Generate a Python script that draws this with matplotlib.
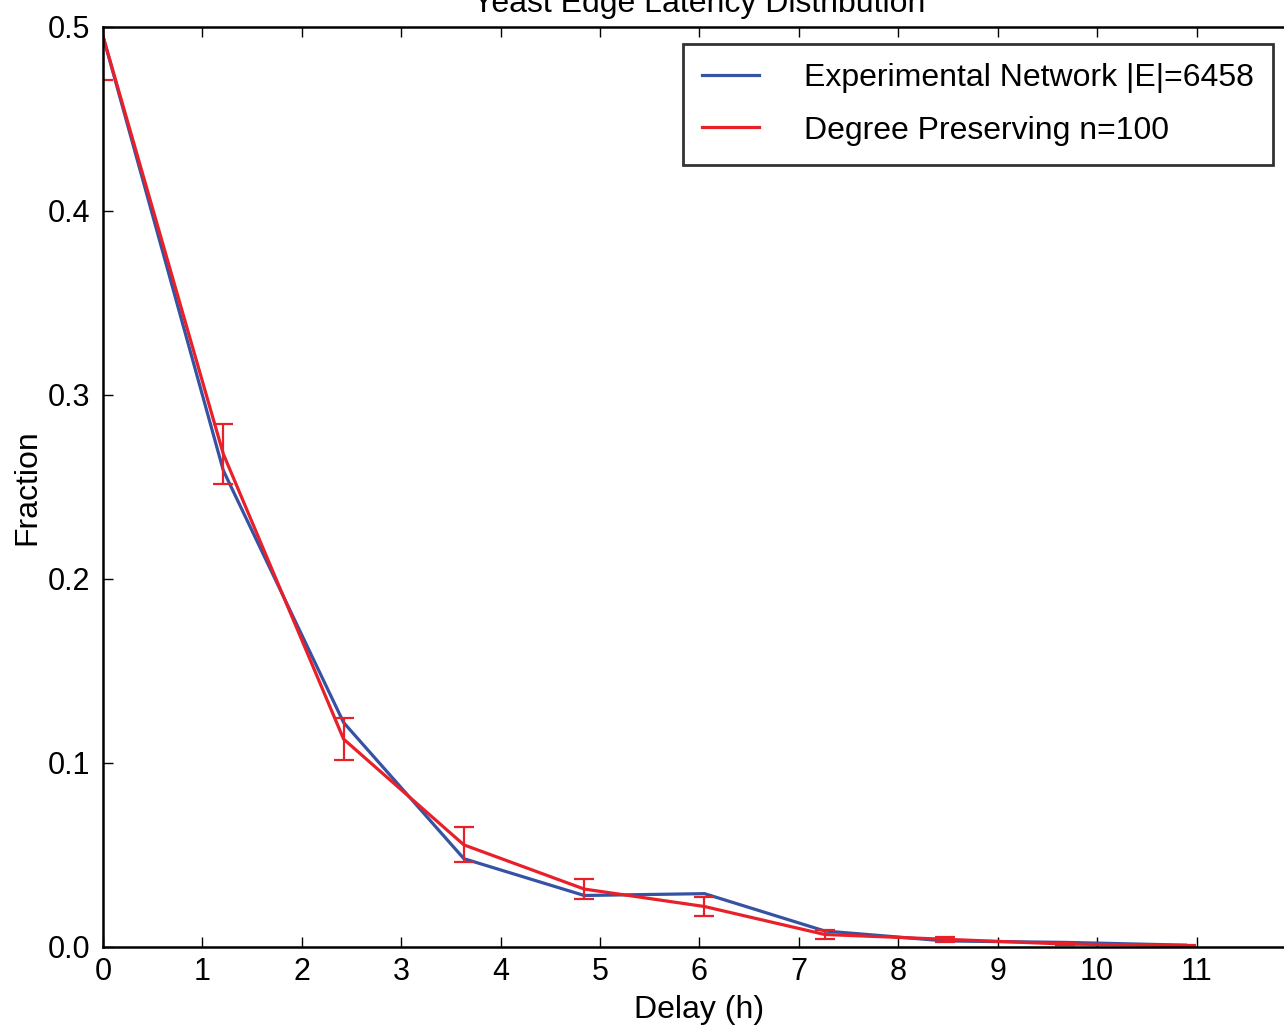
import numpy as np
import matplotlib
matplotlib.use('Agg')
from matplotlib import pyplot as plt

plt.rcParams['font.family'] = ['Liberation Sans', 'DejaVu Sans']

# delay bins (h)
delay = np.arange(10) * 1.21

# observed network
frac_exp = [0.495, 0.259, 0.122, 0.048, 0.028, 0.029, 0.0087, 0.0033, 0.0025, 0.001]

# degree preserving randomisations: mean and std
frac_rand = [0.495, 0.268, 0.113, 0.0555, 0.0315, 0.022, 0.0068, 0.0042, 0.0016, 0.0008]
err_rand = [0.024, 0.0165, 0.0115, 0.0095, 0.0055, 0.005, 0.0023, 0.0013, 0.0006, 0.0004]

label_exp = 'Experimental Network |E|=6458'
label_rand = 'Degree Preserving n=100'

blue = '#3652a3'
red = '#e8202a'

fig = plt.figure(figsize=(12.84, 10.28), dpi=100)
ax = fig.add_axes([103 / 1284, 81 / 1028, 1193 / 1284, 920 / 1028])

ax.plot(delay, frac_exp, color=blue, linewidth=2.3, label=label_exp)
ax.errorbar(delay, frac_rand, yerr=err_rand, color=red, linewidth=2.3,
            elinewidth=1.6, capsize=7, capthick=1.6, label=label_rand)

ax.set_xlim(0, 12)
ax.set_ylim(0, 0.5)
ax.set_xticks(range(12))
ax.set_yticks(np.arange(0, 0.51, 0.1))
ax.set_yticklabels(['%.1f' % v for v in np.arange(0, 0.51, 0.1)])

ax.tick_params(direction='in', top=True, right=True, length=7, width=1,
               labelsize=22)
ax.tick_params(axis='x', pad=7)
ax.tick_params(axis='y', pad=9)
for s in ax.spines.values():
    s.set_linewidth(1.8)

ax.set_xlabel('Delay (h)', fontsize=23, labelpad=6)
ax.set_ylabel('Fraction', fontsize=23, labelpad=4)
ax.set_title('Yeast Edge Latency Distribution', fontsize=23, pad=11)

h, l = ax.get_legend_handles_labels()
h = [h[0], h[1][0]]
leg = ax.legend(h, l, loc='upper right', fontsize=23, fancybox=False,
                bbox_to_anchor=(1273 / 1284, 1 - 44 / 1028),
                bbox_transform=fig.transFigure, borderaxespad=0,
                handlelength=1.8, handletextpad=1.4, borderpad=0.6,
                labelspacing=0.7)
leg.get_frame().set_edgecolor('black')
leg.get_frame().set_linewidth(2.0)

fig.savefig('out.png', dpi=100)
